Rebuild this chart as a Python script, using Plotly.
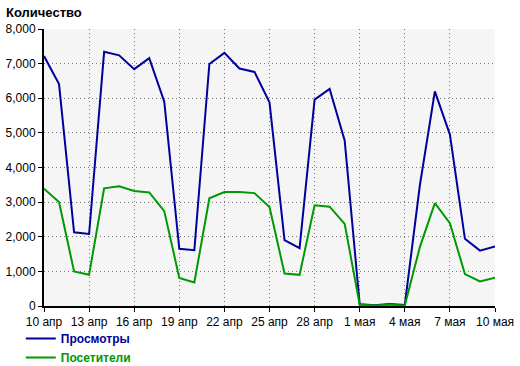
import pandas as pd
import plotly.graph_objects as go

dates = pd.date_range("2013-04-10", "2013-05-10", freq="D")

views = [7220, 6410, 2130, 2080, 7340, 7240, 6840, 7160, 5900, 1650, 1610,
         6990, 7310, 6860, 6760, 5880, 1900, 1670, 5960, 6270, 4780,
         50, 20, 60, 30, 3480, 6200, 4950, 1940, 1600, 1720]
visitors = [3390, 3000, 1000, 900, 3400, 3460, 3320, 3280, 2740, 810, 680,
            3110, 3290, 3290, 3260, 2860, 940, 900, 2910, 2870, 2370,
            40, 15, 40, 15, 1700, 2970, 2390, 920, 710, 820]

tick_vals = ["2013-04-10", "2013-04-13", "2013-04-16", "2013-04-19", "2013-04-22",
             "2013-04-25", "2013-04-28", "2013-05-01", "2013-05-04", "2013-05-07",
             "2013-05-10"]
tick_text = ["10 апр", "13 апр", "16 апр", "19 апр", "22 апр", "25 апр",
             "28 апр", "1 мая", "4 мая", "7 мая", "10 мая"]

blue = "#00009c"
green = "#009900"

fig = go.Figure()
fig.add_trace(go.Scatter(x=dates, y=views, mode="lines",
                         line=dict(color=blue, width=2),
                         name='<b><span style="color:%s">Просмотры</span></b>' % blue))
fig.add_trace(go.Scatter(x=dates, y=visitors, mode="lines",
                         line=dict(color=green, width=2),
                         name='<b><span style="color:%s">Посетители</span></b>' % green))

fig.update_layout(
    width=520, height=366,
    margin=dict(l=44, r=25, t=29, b=60, autoexpand=False),
    paper_bgcolor="white",
    plot_bgcolor="#f5f5f5",
    font=dict(family="Liberation Sans, Arial, sans-serif", size=12, color="black"),
    showlegend=True,
    legend=dict(x=0.04, y=1 - 324 / 366, xref="container", yref="container",
                xanchor="left", yanchor="top",
                bgcolor="rgba(0,0,0,0)", tracegroupgap=0,
                font=dict(size=12), itemwidth=30),
    annotations=[dict(text="<b>Количество</b>", xref="paper", yref="paper",
                      x=-40 / 451, y=1.025, xanchor="left", yanchor="bottom",
                      showarrow=False, font=dict(size=13))],
)
fig.update_xaxes(range=["2013-04-10", "2013-05-10"], tickvals=tick_vals, ticktext=tick_text,
                 automargin=False,
                 showgrid=True, gridcolor="#777777", griddash="1px,3px", gridwidth=1,
                 showline=True, linecolor="black", linewidth=2,
                 ticks="outside", ticklen=4, tickcolor="black", zeroline=False)
fig.update_yaxes(range=[0, 8000], dtick=1000, tickformat=",d",
                 automargin=False,
                 showgrid=True, gridcolor="#777777", griddash="1px,3px", gridwidth=1,
                 showline=True, linecolor="black", linewidth=2,
                 ticks="outside", ticklen=4, tickcolor="black", zeroline=False)

fig.write_html("out.html", config={"displayModeBar": False},
               post_script="document.body.style.margin='0';")
